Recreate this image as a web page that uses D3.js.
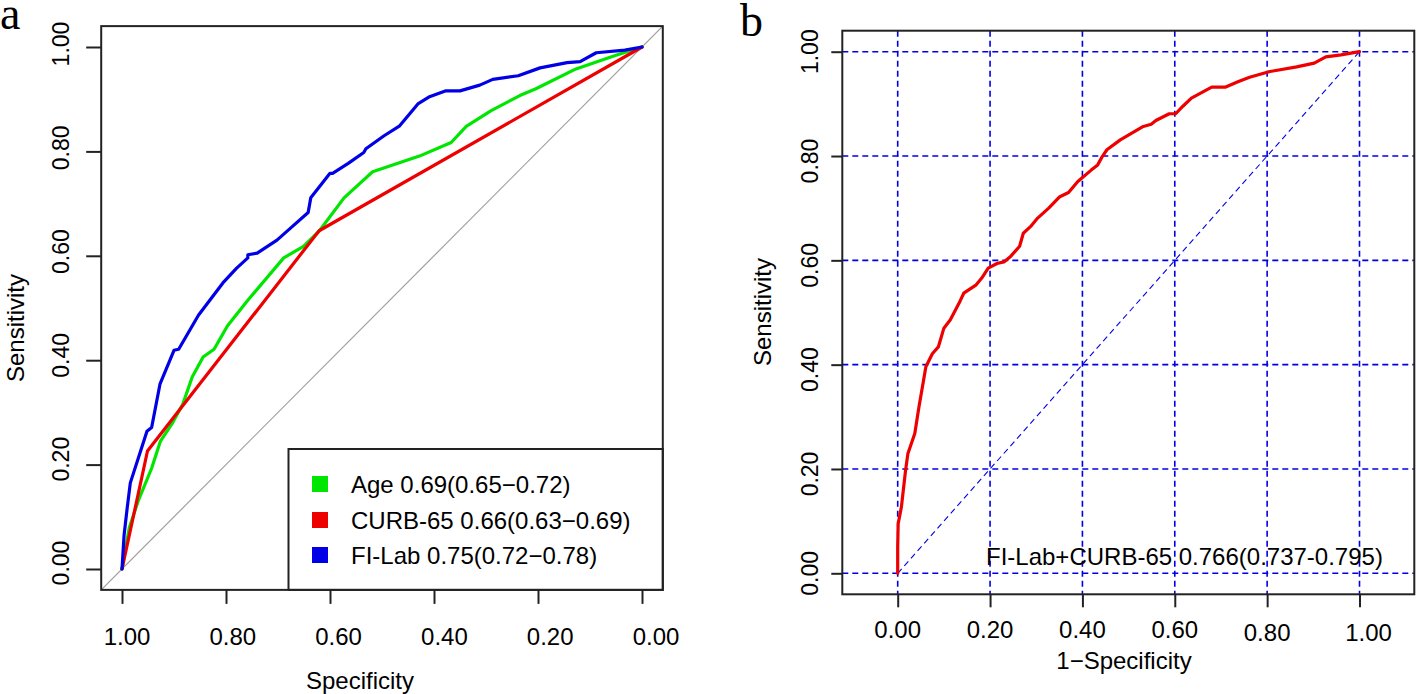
<!DOCTYPE html>
<html>
<head>
<meta charset="utf-8">
<script src="https://cdn.jsdelivr.net/npm/d3@7"></script>
<style>
  html, body { margin: 0; padding: 0; background: #fff; }
  svg { display: block; }
  text { font-family: "Liberation Sans", Arial, sans-serif; fill: #000; }
</style>
</head>
<body>
<script>
// ---------- DATA ----------
// Panel a: [specificity, sensitivity]
const ageCurve = [
  [1.0,0.0],[0.986,0.079],[0.969,0.130],[0.943,0.193],[0.926,0.245],[0.904,0.278],
  [0.883,0.316],[0.865,0.368],[0.844,0.406],[0.823,0.421],[0.797,0.466],[0.758,0.515],
  [0.689,0.596],[0.651,0.618],[0.621,0.647],[0.573,0.711],[0.518,0.761],[0.428,0.791],
  [0.367,0.817],[0.338,0.848],[0.290,0.878],[0.235,0.907],[0.204,0.920],[0.127,0.958],
  [0.050,0.984],[0.0,1.0]
];
const curbCurve = [
  [1.0,0.0],[0.990,0.046],[0.951,0.226],[0.621,0.648],[0.0,1.0]
];
const fiLabCurve = [
  [1.0,0.0],[0.996,0.065],[0.990,0.117],[0.984,0.165],[0.952,0.264],[0.943,0.271],
  [0.927,0.354],[0.900,0.419],[0.891,0.421],[0.853,0.486],[0.806,0.548],[0.780,0.576],
  [0.758,0.596],[0.758,0.602],[0.740,0.605],[0.702,0.630],[0.677,0.652],[0.642,0.683],
  [0.637,0.711],[0.600,0.758],[0.595,0.758],[0.565,0.777],[0.535,0.798],[0.531,0.805],
  [0.496,0.830],[0.466,0.849],[0.431,0.891],[0.410,0.904],[0.377,0.916],[0.350,0.916],
  [0.312,0.927],[0.287,0.938],[0.238,0.945],[0.196,0.960],[0.144,0.970],[0.119,0.972],
  [0.088,0.989],[0.033,0.994],[0.0,1.0]
];
const seriesNamesA = ["Age", "CURB-65", "FI-Lab"];
const seriesColorsA = ["#00e600", "#ee0000", "#0000e6"];
const legendLabelsA = ["Age 0.69(0.65\u22120.72)", "CURB-65 0.66(0.63\u22120.69)", "FI-Lab 0.75(0.72\u22120.78)"];

// Panel b: [1-specificity, sensitivity]
const combinedCurve = [
  [0,0],[0.0,0.05],[0.001,0.095],[0.008,0.127],[0.017,0.197],[0.022,0.229],[0.037,0.268],
  [0.046,0.319],[0.056,0.370],[0.061,0.396],[0.075,0.421],[0.088,0.434],[0.100,0.470],
  [0.114,0.486],[0.133,0.518],[0.143,0.537],[0.170,0.553],[0.182,0.566],[0.196,0.585],
  [0.215,0.594],[0.230,0.597],[0.245,0.608],[0.264,0.627],[0.272,0.652],[0.288,0.665],
  [0.303,0.681],[0.327,0.700],[0.351,0.722],[0.370,0.730],[0.390,0.751],[0.419,0.773],
  [0.433,0.783],[0.443,0.799],[0.453,0.812],[0.482,0.831],[0.530,0.856],[0.549,0.861],
  [0.559,0.868],[0.588,0.881],[0.602,0.881],[0.617,0.895],[0.636,0.911],[0.680,0.932],
  [0.709,0.932],[0.738,0.943],[0.762,0.951],[0.806,0.962],[0.864,0.971],[0.902,0.978],
  [0.927,0.990],[0.960,0.994],[1.0,1.0]
];
const combinedLabel = "FI-Lab+CURB-65 0.766(0.737-0.795)";

const ticksA = [1.0, 0.8, 0.6, 0.4, 0.2, 0.0];
const ticksB = [0.0, 0.2, 0.4, 0.6, 0.8, 1.0];
const fmt = d3.format(".2f");

// ---------- SVG ----------
const W = 1416, H = 694;
const svg = d3.select("body").append("svg").attr("width", W).attr("height", H);
svg.append("rect").attr("width", W).attr("height", H).attr("fill", "#fff");

// ================= PANEL A =================
const xA = d3.scaleLinear().domain([1, 0]).range([122, 642]);
const yA = d3.scaleLinear().domain([0, 1]).range([569, 47]);
const xLabA = d3.scaleLinear().domain([1, 0]).range([127, 656]);
const yLabA = d3.scaleLinear().domain([0, 1]).range([563, 44]);
const boxA = {x0: xA(1.04), x1: xA(-0.04), y0: yA(1.04), y1: yA(-0.04)};

svg.append("defs").append("clipPath").attr("id", "clipA")
  .append("rect").attr("x", boxA.x0).attr("y", boxA.y0)
  .attr("width", boxA.x1 - boxA.x0).attr("height", boxA.y1 - boxA.y0);

const gA = svg.append("g");
// diagonal reference
gA.append("line").attr("clip-path", "url(#clipA)")
  .attr("x1", xA(1.04)).attr("y1", yA(-0.04)).attr("x2", xA(-0.04)).attr("y2", yA(1.04))
  .attr("stroke", "#a0a0a0").attr("stroke-width", 1.2);

const lineA = d3.line().x(d => xA(d[0])).y(d => yA(d[1]));
[ageCurve, curbCurve, fiLabCurve].forEach((c, i) => {
  gA.append("path").datum(c).attr("d", lineA).attr("fill", "none")
    .attr("stroke", seriesColorsA[i]).attr("stroke-width", 3.2)
    .attr("stroke-linejoin", "round").attr("stroke-linecap", "round");
});

// axes ticks
gA.append("g").attr("transform", `translate(0,${boxA.y1})`)
  .call(d3.axisBottom(xA).tickValues(ticksA).tickSize(14).tickFormat(""))
  .call(g => g.select(".domain").remove())
  .call(g => g.selectAll("line").attr("stroke", "#222").attr("stroke-width", 2));
gA.append("g").attr("transform", `translate(${boxA.x0},0)`)
  .call(d3.axisLeft(yA).tickValues(ticksA).tickSize(15).tickFormat(""))
  .call(g => g.select(".domain").remove())
  .call(g => g.selectAll("line").attr("stroke", "#222").attr("stroke-width", 2));

// tick labels
gA.selectAll(".xlabA").data(ticksA).join("text")
  .attr("x", d => xLabA(d)).attr("y", 645).attr("text-anchor", "middle")
  .attr("font-size", 24).text(d => fmt(d));
gA.selectAll(".ylabA").data(ticksA).join("text")
  .attr("transform", d => `translate(69,${yLabA(d)}) rotate(-90)`)
  .attr("text-anchor", "middle").attr("font-size", 23).text(d => fmt(d));

// legend
const leg = gA.append("g");
leg.append("rect").attr("x", 288.5).attr("y", 449).attr("width", boxA.x1 - 288.5)
  .attr("height", boxA.y1 - 449).attr("fill", "#fff").attr("stroke", "#222").attr("stroke-width", 2);
const legBase = [493, 529, 564];
legendLabelsA.forEach((t, i) => {
  leg.append("rect").attr("x", 312).attr("y", legBase[i] - 17).attr("width", 16).attr("height", 16)
    .attr("fill", seriesColorsA[i]);
  leg.append("text").attr("x", 351).attr("y", legBase[i]).attr("font-size", 24).text(t);
});

// box
gA.append("rect").attr("x", boxA.x0).attr("y", boxA.y0)
  .attr("width", boxA.x1 - boxA.x0).attr("height", boxA.y1 - boxA.y0)
  .attr("fill", "none").attr("stroke", "#222").attr("stroke-width", 2);

// titles
gA.append("text").attr("x", 360).attr("y", 689).attr("text-anchor", "middle")
  .attr("font-size", 24).text("Specificity");
gA.append("text").attr("transform", "translate(24,328) rotate(-90)")
  .attr("text-anchor", "middle").attr("font-size", 24).text("Sensitivity");
svg.append("text").attr("x", 0).attr("y", 29).attr("font-size", 46)
  .style("font-family", "'Liberation Serif', 'Times New Roman', serif").text("a");

// ================= PANEL B =================
const xB = d3.scaleLinear().domain([0, 1]).range([897.7, 1359.5]);
const yB = d3.scaleLinear().domain([0, 1]).range([573.3, 51.7]);
const boxB = {x0: 842.3, x1: 1414.3, y0: 30.7, y1: 594.3};
const gB = svg.append("g");

// grid
const gridColor = "#0000e6";
gB.selectAll(".vgrid").data(ticksB).join("line")
  .attr("x1", d => xB(d)).attr("x2", d => xB(d)).attr("y1", boxB.y0).attr("y2", boxB.y1)
  .attr("stroke", gridColor).attr("stroke-width", 1.6).attr("stroke-dasharray", "6,4");
gB.selectAll(".hgrid").data(ticksB).join("line")
  .attr("y1", d => yB(d)).attr("y2", d => yB(d)).attr("x1", boxB.x0).attr("x2", boxB.x1)
  .attr("stroke", gridColor).attr("stroke-width", 1.6).attr("stroke-dasharray", "6,4");
// diagonal
gB.append("line").attr("x1", xB(0)).attr("y1", yB(0)).attr("x2", xB(1)).attr("y2", yB(1))
  .attr("stroke", gridColor).attr("stroke-width", 1.1).attr("stroke-dasharray", "6,4");

const lineB = d3.line().x(d => xB(d[0])).y(d => yB(d[1]));
gB.append("path").datum(combinedCurve).attr("d", lineB).attr("fill", "none")
  .attr("stroke", "#ee0000").attr("stroke-width", 3.2)
  .attr("stroke-linejoin", "round").attr("stroke-linecap", "round");

// axis ticks
gB.append("g").attr("transform", `translate(0,${boxB.y1})`)
  .call(d3.axisBottom(xB).tickValues(ticksB).tickSize(13).tickFormat(""))
  .call(g => g.select(".domain").remove())
  .call(g => g.selectAll("line").attr("stroke", "#222").attr("stroke-width", 2));
gB.append("g").attr("transform", `translate(${boxB.x0},0)`)
  .call(d3.axisLeft(yB).tickValues(ticksB).tickSize(11).tickFormat(""))
  .call(g => g.select(".domain").remove())
  .call(g => g.selectAll("line").attr("stroke", "#222").attr("stroke-width", 2));

gB.selectAll(".xlabB").data(ticksB).join("text")
  .attr("x", d => xB(d) + (d === 1 ? 9 : 0)).attr("y", d => d >= 0.8 ? 641 : 638)
  .attr("text-anchor", "middle").attr("font-size", 24).text(d => fmt(d));
gB.selectAll(".ylabB").data(ticksB).join("text")
  .attr("transform", d => `translate(818,${yB(d) + (d > 0 && d < 1 ? 5 : 0)}) rotate(-90)`)
  .attr("text-anchor", "middle").attr("font-size", 23).text(d => fmt(d));

gB.append("rect").attr("x", boxB.x0).attr("y", boxB.y0)
  .attr("width", boxB.x1 - boxB.x0).attr("height", boxB.y1 - boxB.y0)
  .attr("fill", "none").attr("stroke", "#222").attr("stroke-width", 2);

gB.append("text").attr("x", 986).attr("y", 565).attr("font-size", 24).text(combinedLabel);
gB.append("text").attr("x", 1124).attr("y", 669).attr("text-anchor", "middle")
  .attr("font-size", 24).text("1\u2212Specificity");
gB.append("text").attr("transform", "translate(771,312) rotate(-90)")
  .attr("text-anchor", "middle").attr("font-size", 24).text("Sensitivity");
svg.append("text").attr("x", 740).attr("y", 36).attr("font-size", 46)
  .style("font-family", "'Liberation Serif', 'Times New Roman', serif").text("b");
</script>
</body>
</html>
